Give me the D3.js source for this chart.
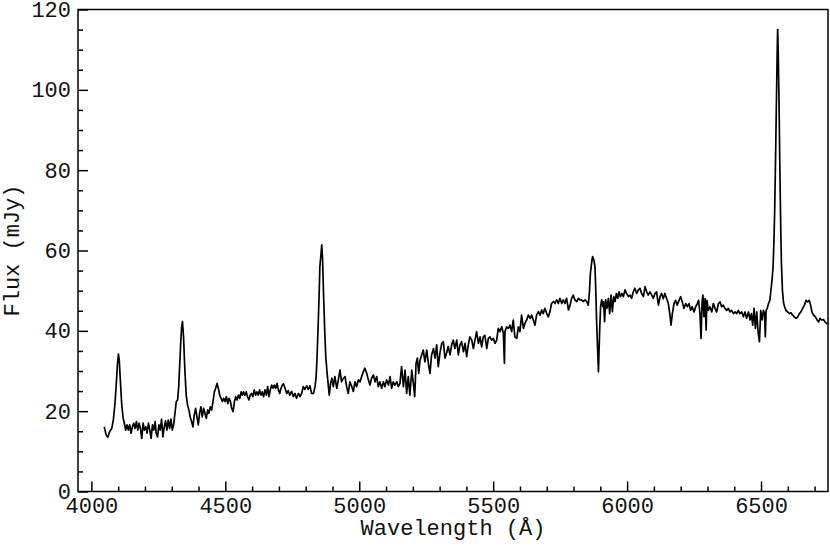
<!DOCTYPE html>
<meta charset="utf-8">
<style>
body { margin: 0; background: #fff; }
svg { display: block; }
.frame { fill: none; stroke: #000; stroke-width: 1.5px; }
.axis path.domain { display: none; }
.axis line { stroke: #000; stroke-width: 1.5px; }
.axis text, .title { font-family: "Liberation Mono", "DejaVu Sans Mono", monospace; font-size: 22px; fill: #111; }
.spectrum { fill: none; stroke: #000; stroke-width: 1.7px; stroke-linejoin: round; }
</style>

<svg id="chart" width="830" height="554"></svg>

<script src="https://cdn.jsdelivr.net/npm/d3@7"></script>
<script>
    // [wavelength (A), flux (mJy)], split by region
    var spectrumBlue = [
        [4048,16.1],[4055,14.1],[4061,13.5],[4068,14.9],[4076,15.7],[4082,17.8],[4088,21.9],[4093,26.9],
        [4097,31.5],[4101,34.2],[4104,32.7],[4108,27.8],[4113,21.9],[4118,18.5],[4123,17.0],[4128,15.3],
        [4133,16.6],[4138,15.3],[4143,16.6],[4148,14.5],[4153,16.1],[4158,17.0],[4163,15.7],[4168,17.4],
        [4173,15.3],[4178,17.0],[4183,15.7],[4188,13.2],[4193,17.0],[4198,15.3],[4203,16.1],[4208,14.5],
        [4213,17.0],[4218,15.3],[4223,13.2],[4228,16.6],[4233,15.3],[4238,17.4],[4242,14.5],[4247,13.6],
        [4252,16.6],[4257,15.3],[4262,18.0],[4267,13.6],[4272,16.1],[4277,17.6],[4282,15.3],[4287,17.8],
        [4292,15.7],[4297,18.0],[4302,15.3],[4307,16.6],[4312,19.5],[4317,22.4],[4322,22.8],[4326,26.1],
        [4330,31.9],[4334,37.7],[4337,41.0],[4340,42.3],[4344,38.5],[4349,30.2],[4354,24.0],[4359,21.5],
        [4364,20.3],[4369,18.5],[4374,17.4],[4379,16.1],[4384,19.0],[4389,20.7],[4394,18.6],[4399,16.6],
        [4404,19.5],[4409,21.1],[4414,18.6],[4419,20.7],[4424,19.5],[4429,18.2],[4434,20.3],[4439,19.5],
        [4444,21.1],[4449,20.3],[4454,22.4],[4459,24.8],[4464,25.7],[4469,26.9],[4474,25.7],[4479,24.0],
        [4484,23.2],[4489,22.4],[4494,23.2],[4499,22.4],[4504,23.6],[4509,21.9],[4514,23.2],[4519,22.4],
        [4524,20.7],[4529,19.9],[4534,22.4],[4539,23.6],[4544,22.8],[4549,24.0],[4554,23.2],[4559,24.8],
        [4564,24.0],[4568,24.8],[4573,24.0],[4578,24.8],[4583,23.6],[4588,22.8],[4593,24.0],[4598,24.4],
        [4603,23.6],[4608,25.3],[4613,24.0],[4618,24.8],[4623,24.0],[4628,25.3],[4633,24.0],[4638,24.8],
        [4643,23.6],[4648,25.3],[4653,24.0],[4658,26.1],[4663,23.6],[4668,25.3],[4673,26.5],[4678,25.7],
        [4683,26.5],[4688,25.7],[4693,26.9],[4698,25.3],[4703,24.4],[4708,25.7],[4713,26.5]
    ];

    var spectrumGreen = [
        [4717,26.8],[4723,25.7],[4729,24.4],[4735,25.1],[4741,24.0],[4748,24.9],[4754,23.6],[4760,24.4],
        [4766,23.2],[4773,24.4],[4779,23.6],[4785,24.4],[4791,26.1],[4797,25.4],[4804,26.3],[4810,25.4],
        [4816,26.3],[4822,24.4],[4829,24.4],[4835,26.1],[4839,28.6],[4842,32.7],[4846,40.2],[4850,48.5],
        [4853,56.0],[4857,58.9],[4860,61.4],[4863,58.0],[4867,48.5],[4871,40.2],[4875,33.6],[4880,29.4],
        [4885,26.1],[4888,24.0],[4893,26.9],[4898,28.2],[4903,26.1],[4909,28.6],[4916,25.7],[4922,27.8],
        [4928,30.2],[4934,27.3],[4941,28.2],[4947,28.6],[4953,26.1],[4959,24.4],[4965,27.3],[4972,26.1],
        [4978,24.9],[4984,27.3],[4990,26.1],[4997,27.8],[5003,27.3],[5009,28.6],[5015,29.8],[5021,30.7],
        [5028,29.4],[5034,27.8],[5040,26.5],[5046,28.2],[5053,29.0],[5059,27.3],[5065,28.6],[5071,26.1],
        [5077,27.3],[5084,25.7],[5090,27.3],[5096,26.1],[5102,27.8],[5109,26.5],[5115,28.6],[5121,25.7],
        [5127,27.3],[5133,26.5],[5140,27.3],[5146,26.1],[5152,26.9],[5158,31.1],[5165,26.1],[5171,30.2],
        [5177,24.4],[5183,28.6],[5189,24.0],[5196,30.2],[5202,26.9],[5207,23.6],[5212,31.9],[5217,33.2],
        [5222,29.4],[5227,32.7],[5233,34.0],[5239,35.2],[5245,32.3],[5252,35.2],[5258,31.9],[5264,29.4],
        [5270,34.0],[5277,35.6],[5283,33.2],[5289,36.5],[5295,31.1],[5301,34.4],[5308,36.9],[5314,37.3],
        [5320,33.2],[5326,34.4],[5332,36.1],[5339,34.0],[5345,36.5],[5351,37.7],[5357,35.6],[5364,37.7],
        [5370,34.0],[5376,36.5],[5382,37.3],[5389,34.8],[5395,36.9],[5401,33.6],[5407,36.5],[5413,38.5],
        [5420,37.7],[5426,35.6]
    ];

    var spectrumYellow = [
        [5432,37.7],[5438,39.8],[5445,36.9],[5451,38.5],[5457,36.0],[5463,38.5],[5469,38.9],[5476,35.6],
        [5482,38.1],[5488,38.5],[5494,37.7],[5501,38.1],[5507,36.9],[5513,37.7],[5519,40.6],[5525,39.8],
        [5532,41.0],[5538,39.4],[5542,31.9],[5544,39.8],[5550,41.0],[5557,40.6],[5563,41.4],[5569,39.8],
        [5575,42.7],[5581,38.5],[5588,38.1],[5594,41.0],[5600,39.8],[5606,43.9],[5613,40.6],[5619,41.9],
        [5625,42.7],[5631,43.9],[5638,43.1],[5644,43.9],[5650,42.7],[5656,41.4],[5662,43.9],[5669,44.8],
        [5675,43.9],[5681,45.2],[5687,44.3],[5693,45.6],[5700,44.3],[5706,43.5],[5712,44.8],[5718,46.8],
        [5725,47.3],[5731,46.8],[5737,47.7],[5743,46.8],[5749,48.1],[5756,46.8],[5762,47.7],[5768,46.8],
        [5774,48.1],[5781,45.2],[5787,46.4],[5793,48.1],[5799,48.9],[5805,47.7],[5812,47.3],[5818,48.1],
        [5824,47.7],[5830,47.7],[5837,47.3],[5843,47.7],[5849,47.3],[5855,46.4],[5859,49.3],[5863,54.3],
        [5868,57.2],[5871,58.5],[5876,57.6],[5880,56.0],[5883,50.2],[5886,42.7],[5890,35.2],[5893,29.8],
        [5895,34.4],[5898,41.0],[5901,46.0],[5905,47.7],[5909,46.0],[5912,47.3],[5916,42.3],[5920,47.7],
        [5925,45.6],[5930,48.1],[5935,44.3],[5940,48.9],[5945,44.8],[5950,48.5],[5955,47.3],[5960,49.3],
        [5965,48.1],[5970,49.7],[5975,48.5],[5980,49.3],[5986,48.5],[5992,50.2],[5998,49.3],[6005,48.5],
        [6011,48.9],[6017,48.1],[6023,49.7],[6029,50.6],[6036,49.3],[6042,50.2],[6048,50.6],[6054,49.3],
        [6061,48.5],[6067,51.0],[6073,49.7],[6079,48.9],[6085,49.7],[6092,48.9],[6098,48.1],[6104,49.3],
        [6110,49.7],[6117,46.4]
    ];

    var spectrumRed = [
        [6123,48.5],[6129,49.3],[6135,48.0],[6141,49.3],[6148,48.0],[6154,46.8],[6160,43.9],[6164,41.4],
        [6169,44.3],[6175,46.8],[6181,47.6],[6187,46.4],[6194,47.6],[6200,48.5],[6206,47.2],[6212,45.6],
        [6219,46.8],[6225,46.0],[6231,46.8],[6237,45.1],[6243,46.0],[6250,44.7],[6256,46.0],[6262,46.8],
        [6267,47.6],[6272,44.3],[6276,38.1],[6280,47.2],[6283,48.9],[6287,43.5],[6291,48.0],[6295,40.2],
        [6298,47.6],[6303,45.1],[6309,46.0],[6316,44.7],[6322,46.8],[6328,45.6],[6334,44.7],[6341,46.8],
        [6347,47.2],[6353,46.0],[6359,46.4],[6365,45.6],[6372,45.1],[6378,45.6],[6384,44.7],[6390,45.1],
        [6397,44.3],[6403,44.7],[6409,44.3],[6415,45.1],[6421,44.3],[6428,44.7],[6434,43.5],[6440,44.7],
        [6446,43.1],[6453,44.7],[6459,42.7],[6464,44.3],[6469,41.4],[6474,45.6],[6479,40.6],[6484,44.7],
        [6489,39.7],[6494,37.3],[6499,45.1],[6504,42.7],[6509,45.1],[6513,44.3],[6516,38.5],[6519,45.1],
        [6523,45.6],[6528,46.8],[6533,47.6],[6537,50.1],[6541,52.6],[6545,56.0],[6548,62.0],[6551,70.0],
        [6554,82.0],[6557,95.0],[6560,108.0],[6562,115.0],[6564,110.0],[6567,98.0],[6570,82.0],[6573,68.0],
        [6576,57.0],[6580,50.0],[6584,47.0],[6588,46.0],[6593,45.1],[6599,44.7],[6606,44.3],[6612,44.5],
        [6618,43.9],[6624,43.5],[6631,43.1],[6637,43.5],[6643,44.3],[6649,44.7],[6655,45.6],[6662,46.4],
        [6668,47.6],[6674,47.2],[6680,47.6],[6685,46.4],[6690,44.7],[6696,43.9],[6703,43.5],[6709,42.7],
        [6715,42.2],[6720,43.1],[6726,42.7],[6733,42.8],[6739,42.2],[6745,41.8],[6750,42.0]
    ];

    var xDomain = [3950, 6750],
        yDomain = [0, 120];
    var xMajorTicks = [4000, 4500, 5000, 5500, 6000, 6500],
        yMajorTicks = [0, 20, 40, 60, 80, 100, 120];
    var xLabel = "Wavelength (Å)",
        yLabel = "Flux (mJy)";

    var spectrum = spectrumBlue.concat(spectrumGreen, spectrumYellow, spectrumRed);

    var svg = d3.select("#chart");
    var plotLeft = 78, plotRight = 828, plotTop = 9.5, plotBottom = 491.5;

    var x = d3.scaleLinear()
              .domain(xDomain)
              .range([plotLeft, plotRight]);
    var y = d3.scaleLinear()
              .domain(yDomain)
              .range([plotBottom, plotTop]);

    var xMinorTicks = d3.range(4000, 6751, 100).filter(function(d) { return d % 500 !== 0; });
    var yMinorTicks = d3.range(0, 121, 5).filter(function(d) { return d % 20 !== 0; });

    // minor ticks first, no labels
    svg.append("g")
       .attr("class", "axis")
       .attr("transform", "translate(0," + plotBottom + ")")
       .call(d3.axisBottom(x).tickValues(xMinorTicks).tickSize(-5).tickFormat(""));
    svg.append("g")
       .attr("class", "axis")
       .attr("transform", "translate(" + plotLeft + ",0)")
       .call(d3.axisLeft(y).tickValues(yMinorTicks).tickSize(-5).tickFormat(""));

    svg.append("g")
       .attr("class", "axis")
       .attr("transform", "translate(0," + plotBottom + ")")
       .call(d3.axisBottom(x).tickValues(xMajorTicks).tickSize(-10).tickPadding(6).tickFormat(d3.format("d")));
    svg.append("g")
       .attr("class", "axis")
       .attr("transform", "translate(" + plotLeft + ",0)")
       .call(d3.axisLeft(y).tickValues(yMajorTicks).tickSize(-10).tickPadding(7).tickFormat(d3.format("d")));

    svg.selectAll(".axis")
       .attr("font-family", null)
       .attr("font-size", null);

    var line = d3.line()
                 .x(function(d) { return x(d[0]); })
                 .y(function(d) { return y(d[1]); });

    svg.append("path")
       .datum(spectrum)
       .attr("class", "spectrum")
       .attr("d", line);

    svg.append("rect")
       .attr("class", "frame")
       .attr("x", plotLeft)
       .attr("y", plotTop)
       .attr("width", plotRight - plotLeft)
       .attr("height", plotBottom - plotTop);

    svg.append("text")
       .attr("class", "title")
       .attr("x", (plotLeft + plotRight) / 2)
       .attr("y", 535)
       .attr("text-anchor", "middle")
       .text(xLabel);

    svg.append("text")
       .attr("class", "title")
       .attr("transform", "translate(19," + (plotTop + plotBottom) / 2 + ") rotate(-90)")
       .attr("text-anchor", "middle")
       .text(yLabel);
</script>
